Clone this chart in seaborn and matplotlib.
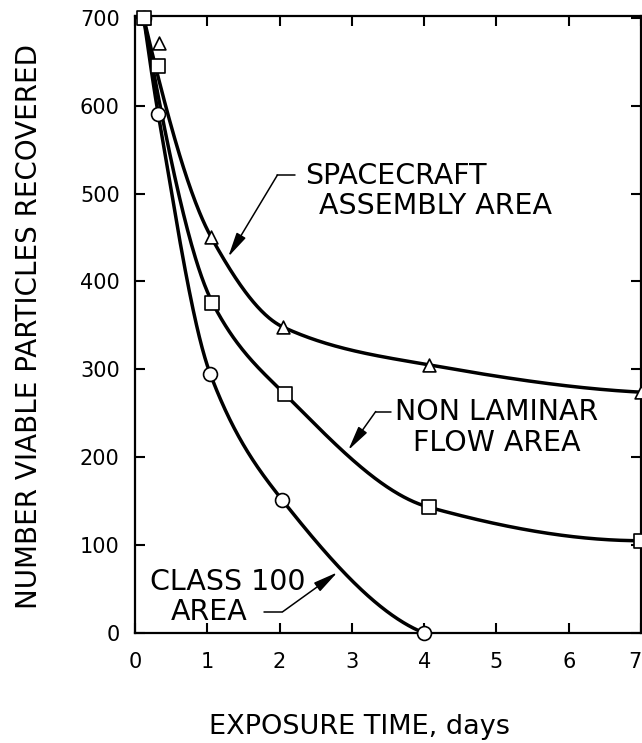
import numpy as np
import pandas as pd
import matplotlib
matplotlib.use("Agg")
import matplotlib.pyplot as plt
import seaborn as sns

# ---- data ----
days_sc = [0.12, 0.33, 1.05, 2.05, 4.07, 7.0]
spacecraft = [700, 671, 451, 348, 305, 274]

days_nl = [0.12, 0.32, 1.07, 2.07, 4.07, 7.0]
non_laminar = [700, 645, 376, 272, 143, 105]

days_c100 = [0.12, 0.32, 1.04, 2.04, 4.0]
class100 = [700, 591, 295, 151, 0]

# which measured points the hand-drawn curve actually passes through
# (in the original the curves run just left of the 8-hour triangle/square)
curve_pts_sc = [0, 2, 3, 4, 5]
curve_pts_nl = [0, 2, 3, 4, 5]
curve_pts_c100 = [0, 1, 2, 3, 4]

x_ticks = [0, 1, 2, 3, 4, 5, 6, 7]
y_ticks = [0, 100, 200, 300, 400, 500, 600, 700]

xlabel = "EXPOSURE TIME, days"
ylabel = "NUMBER VIABLE PARTICLES RECOVERED"


def pchip(x, y, xs):
    x = np.asarray(x, float); y = np.asarray(y, float)
    h = np.diff(x); d = np.diff(y) / h
    n = len(x); m = np.zeros(n)
    for k in range(1, n - 1):
        if d[k - 1] * d[k] > 0:
            w1 = 2 * h[k] + h[k - 1]; w2 = h[k] + 2 * h[k - 1]
            m[k] = (w1 + w2) / (w1 / d[k - 1] + w2 / d[k])
    def end(h0, h1, d0, d1):
        v = ((2 * h0 + h1) * d0 - h0 * d1) / (h0 + h1)
        if np.sign(v) != np.sign(d0):
            v = 0.0
        elif np.sign(d0) != np.sign(d1) and abs(v) > abs(3 * d0):
            v = 3 * d0
        return v
    m[0] = end(h[0], h[1], d[0], d[1])
    m[-1] = end(h[-1], h[-2], d[-1], d[-2])
    idx = np.clip(np.searchsorted(x, xs) - 1, 0, n - 2)
    t = (xs - x[idx]) / h[idx]
    h00 = 2 * t**3 - 3 * t**2 + 1; h10 = t**3 - 2 * t**2 + t
    h01 = -2 * t**3 + 3 * t**2; h11 = t**3 - t**2
    return h00 * y[idx] + h10 * h[idx] * m[idx] + h01 * y[idx + 1] + h11 * h[idx] * m[idx + 1]


sns.set_style("ticks")
plt.rcParams["font.family"] = ["DejaVu Sans"]
plt.rcParams["text.color"] = "black"
plt.rcParams["axes.labelcolor"] = "black"

fig = plt.figure(figsize=(6.42, 7.43), dpi=100)
ax = fig.add_axes([135 / 642, 1 - 633 / 743, 506 / 642, 617 / 743])

series = [
    ("spacecraft", days_sc, spacecraft, curve_pts_sc, "^"),
    ("non_laminar", days_nl, non_laminar, curve_pts_nl, "s"),
    ("class100", days_c100, class100, curve_pts_c100, "o"),
]

for name, xs, ys, sel, mk in series:
    px = np.asarray(xs)[sel]; py = np.asarray(ys)[sel]
    xx = np.linspace(px[0], px[-1], 500)
    yy = pchip(px, py, xx)
    sns.lineplot(x=xx, y=yy, ax=ax, color="black", lw=2.5, sort=False,
                 estimator=None, zorder=2)

for name, xs, ys, sel, mk in [series[2], series[0], series[1]]:
    df = pd.DataFrame({"x": xs, "y": ys})
    sns.scatterplot(data=df, x="x", y="y", ax=ax, marker=mk, s=100 if mk != "^" else 85,
                    facecolor="white", edgecolor="black", linewidth=1.2, zorder=4,
                    clip_on=False)

ax.set_xlim(0, 7.0)
ax.set_ylim(0, 702)
ax.set_xticks(x_ticks)
ax.set_yticks(y_ticks)
ax.set_xticklabels([str(v) for v in x_ticks])
ax.set_yticklabels([str(v) for v in y_ticks])
ax.get_xticklabels()[-1].set_horizontalalignment("right")

for s in ax.spines.values():
    s.set_linewidth(1.6)
    s.set_color("black")

ax.tick_params(axis="both", direction="in", length=7, width=1.5, labelsize=15,
               top=True, right=True, colors="black")
ax.tick_params(axis="x", pad=14)
ax.tick_params(axis="y", pad=11)

ax.set_xlabel(xlabel, fontsize=19.5, color="black")
ax.xaxis.set_label_coords(0.4427, -0.131)
ax.set_ylabel(ylabel, fontsize=20, color="black")
ax.yaxis.set_label_coords(-0.181, 0.496)

txt_kw = dict(fontsize=20.5, color="black", ha="left", va="center")
arrow_kw = dict(arrowstyle="-|>,head_length=1.5,head_width=0.32", color="black",
                lw=1.1, shrinkA=0, shrinkB=0)

# SPACECRAFT ASSEMBLY AREA
ax.text(2.36, 520, "SPACECRAFT", **txt_kw)
ax.text(2.54, 486, "ASSEMBLY AREA", **txt_kw)
ax.plot([1.97, 2.22], [521, 521], color="black", lw=1.1)
ax.annotate("", xy=(1.29, 428), xytext=(1.97, 521), arrowprops=arrow_kw)

# NON LAMINAR FLOW AREA
ax.text(3.60, 252, "NON LAMINAR", **txt_kw)
ax.text(3.84, 216, "FLOW AREA", **txt_kw)
ax.plot([3.33, 3.54], [252, 252], color="black", lw=1.1)
ax.annotate("", xy=(2.95, 208), xytext=(3.33, 252), arrowprops=arrow_kw)

# CLASS 100 AREA
ax.text(0.21, 58, "CLASS 100", **txt_kw)
ax.text(0.49, 24, "AREA", **txt_kw)
ax.plot([1.78, 2.04], [24, 24], color="black", lw=1.1)
ax.annotate("", xy=(2.80, 69), xytext=(2.04, 24), arrowprops=arrow_kw)

fig.savefig("out.png", dpi=100)
